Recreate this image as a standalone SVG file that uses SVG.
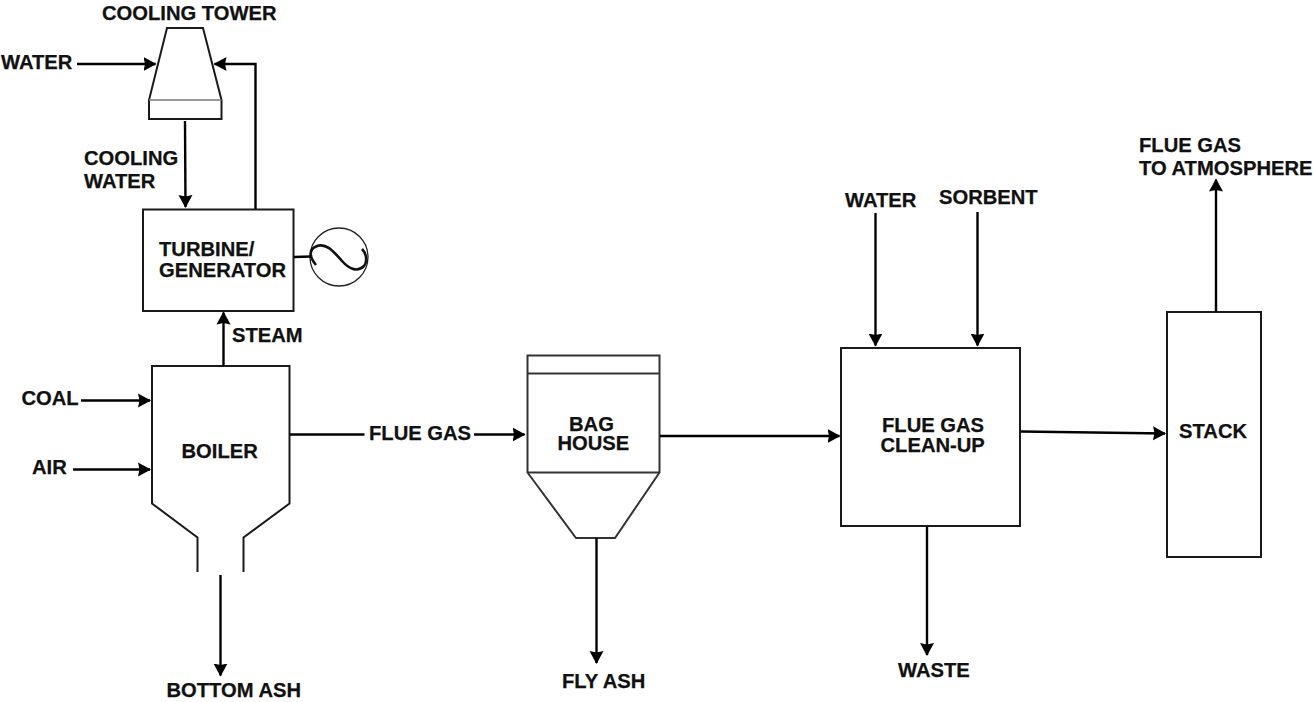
<svg xmlns="http://www.w3.org/2000/svg" width="1313" height="702" viewBox="0 0 1313 702">
<style>
.s{fill:none;stroke:#1a1a1a;stroke-width:2}
.t{fill:#fff;stroke:#1a1a1a;stroke-width:2}
.b{stroke:#333}
.c{fill:none;stroke:#000;stroke-width:2.4}
.a{fill:none;stroke:#000;stroke-width:2.4;marker-end:url(#ah)}
text{font-family:"Liberation Sans",Arial,sans-serif;font-weight:bold;font-size:20.2px;fill:#111;stroke:#111;stroke-width:.25}
</style>
<defs><marker id="ah" markerUnits="userSpaceOnUse" markerWidth="15" markerHeight="15" refX="12" refY="7.500" orient="auto"><path d="M0 .5L13 7.500L0 14.500L1.500 7.500Z" fill="#000"/></marker></defs>
<rect width="1313" height="702" fill="#fff"/>
<g id="cooling-tower">
<path class="t" d="M167 28H203L221.500 100V119H149V100Z"/>
<path d="M149 100H221.500" fill="none" stroke="#777" stroke-width="1.500"/>
<text x="102" y="20">COOLING TOWER</text>
</g>
<g id="turbine">
<rect class="t" x="143" y="209.500" width="150.500" height="101.500"/>
<text x="159" y="255.500">TURBINE/</text>
<text x="159" y="276.500">GENERATOR</text>
</g>
<g id="generator">
<circle cx="339" cy="257" r="29" fill="#fff" stroke="#222" stroke-width="1.300"/>
<path d="M316 265C310 258 308 250 316 246.500C326 242 334 252 342 261C350 270 358 272 364 266C368 261 366 253 362 249" fill="none" stroke="#111" stroke-width="2.600"/>
</g>
<g id="boiler">
<path class="s" d="M197.500 572V537.500L152 503.500V366H289.500V503.500L243.500 537.500V572"/>
<text x="181.500" y="457.500">BOILER</text>
</g>
<g id="bag-house">
<path class="t b" d="M527.500 355.500H659.500V472.500L615 538H576L527.500 472.500Z"/>
<path class="s b" d="M527.500 373.500H659.500M527.500 472.500H659.500"/>
<text x="569" y="430.500">BAG</text>
<text x="557.500" y="450">HOUSE</text>
</g>
<g id="clean-up">
<rect class="t" x="841" y="348" width="179" height="178"/>
<text x="882" y="431.500">FLUE GAS</text>
<text x="880.500" y="451.500">CLEAN-UP</text>
</g>
<g id="stack">
<rect class="t" x="1167" y="312" width="94" height="245"/>
<text x="1179" y="437.500">STACK</text>
</g>
<g id="connectors">
<path class="a" d="M77 64H155.500"/>
<path class="a" d="M255.500 209V64H214.500"/>
<path class="a" d="M185 121L185.500 207"/>
<path class="a" d="M223.500 366V312.500"/>
<path class="c" d="M294 257L311 256.500"/>
<path class="a" d="M81 400.500H150"/>
<path class="a" d="M73 469.500H150"/>
<path class="c" d="M290 434.500H364.500"/>
<path class="a" d="M474 434.500H524.500"/>
<path class="a" d="M220.500 575V675.500"/>
<path class="a" d="M660 436H839.500"/>
<path class="a" d="M596.500 538V663"/>
<path class="a" d="M875.500 213V345.500"/>
<path class="a" d="M977.500 212V345.500"/>
<path class="a" d="M1021 431.500L1165 433.500"/>
<path class="a" d="M927 526V655"/>
<path class="a" d="M1216 312V179.500"/>
</g>
<g id="labels">
<text x="1" y="68.500">WATER</text>
<text x="84" y="165">COOLING</text>
<text x="84" y="187.500">WATER</text>
<text x="232" y="341.500">STEAM</text>
<text x="21.500" y="404.500">COAL</text>
<text x="32" y="474">AIR</text>
<text x="369" y="440">FLUE GAS</text>
<text x="166.500" y="696.500">BOTTOM ASH</text>
<text x="562" y="688">FLY ASH</text>
<text x="898" y="676.500">WASTE</text>
<text x="845" y="207">WATER</text>
<text x="939" y="204">SORBENT</text>
<text x="1139" y="151.500">FLUE GAS</text>
<text x="1139" y="175">TO ATMOSPHERE</text>
</g>
</svg>
